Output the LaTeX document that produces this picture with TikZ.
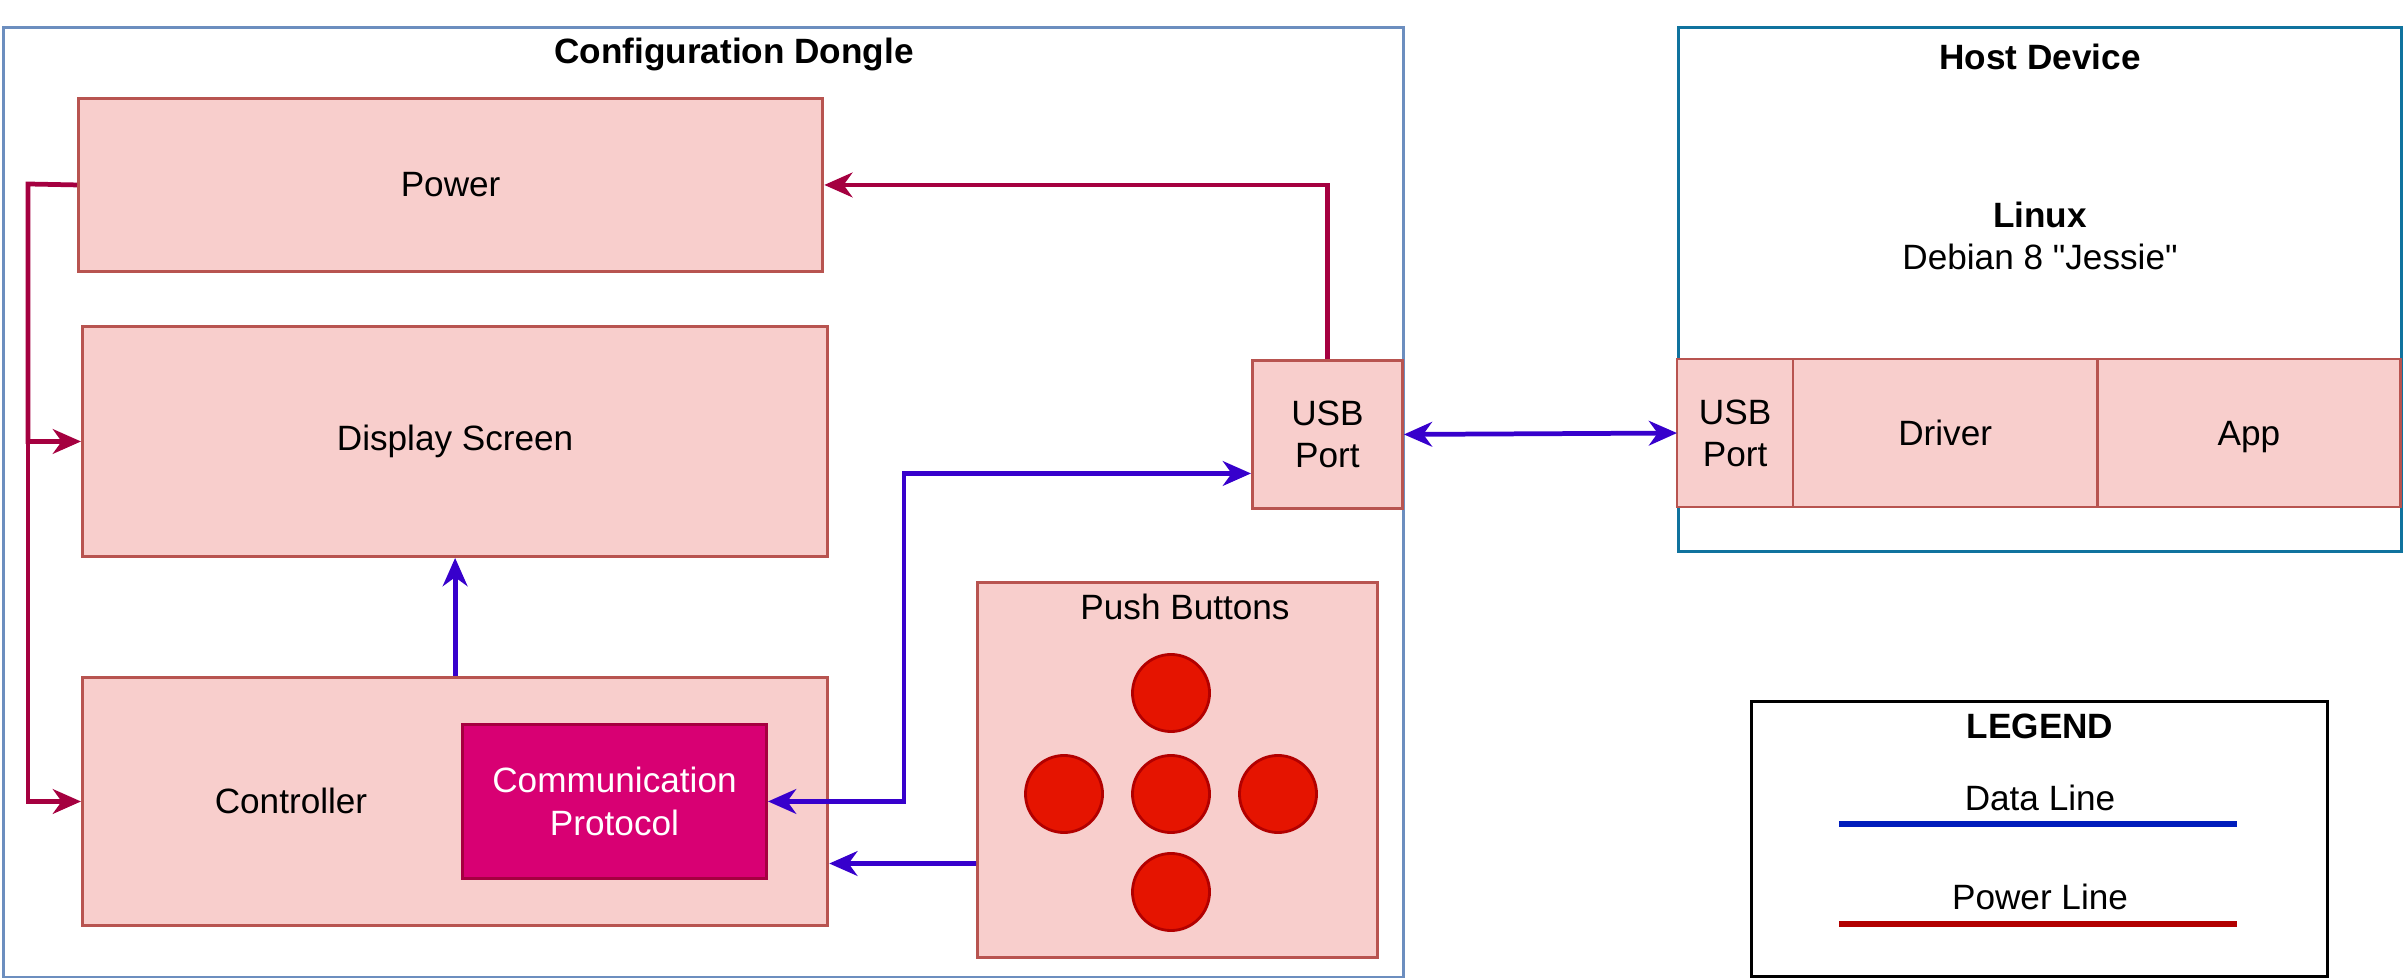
\documentclass[tikz,border=0pt]{standalone}
\usepackage{fontspec}
\setmainfont{Liberation Sans}
\newfontfamily\plainfont{Liberation Sans}
\usepackage{xcolor}
\usetikzlibrary{shapes,arrows.meta,positioning}
\definecolor{boxfill}{HTML}{F8CECC}
\definecolor{boxline}{HTML}{B85450}
\definecolor{commfill}{HTML}{D80073}
\definecolor{commline}{HTML}{A50040}
\definecolor{btnfill}{HTML}{E51400}
\definecolor{btnline}{HTML}{B20000}
\definecolor{dongleline}{HTML}{6C8EBF}
\definecolor{hostline}{HTML}{10739E}
\definecolor{powerline}{HTML}{A50040}
\definecolor{dataline}{HTML}{3700CC}
\definecolor{legblue}{HTML}{001DBC}
\definecolor{legred}{HTML}{B20000}

\begin{document}
\begin{tikzpicture}[x=0.01cm, y=-0.01cm, node distance = 0pt, auto]
        \tikzstyle{group} = [rectangle, draw, line width=0.8pt, anchor=north west, inner sep=0pt]
        \tikzstyle{block} = [rectangle, draw=boxline, fill=boxfill, line width=0.8pt, align=center, anchor=north west, inner sep=0pt]
        \tikzstyle{cell} = [block, outer sep=0pt]
        \tikzstyle{button} = [circle, draw=btnline, fill=btnfill, line width=0.8pt, minimum size=0.77cm, inner sep=0pt]
        \tikzstyle{line} = [draw, line width=1.35pt, -{Stealth[length=8pt, width=7pt, inset=2.5pt]}]
        \tikzstyle{twoway} = [line, {Stealth[length=8pt, width=7pt, inset=2.5pt]}-{Stealth[length=8pt, width=7pt, inset=2.5pt]}]
        \tikzstyle{power} = [line, color=powerline]
        \tikzstyle{data} = [line, color=dataline]
        \tikzstyle{key} = [draw, line width=1.6pt]

        \useasboundingbox (0,0) rectangle (2403,980);

        \node [group, draw=dongleline, minimum width=13.99cm, minimum height=9.49cm] (dongle) at (2,26) {};
        \node [font=\bfseries] (dongle_title) at (734,54) {Configuration Dongle};

        \node [block, minimum width=7.44cm, minimum height=1.73cm] (power) at (77,97) {Power};
        \node [block, minimum width=7.45cm, minimum height=2.30cm] (display) at (81,325) {Display Screen};
        \node [block, minimum width=7.45cm, minimum height=2.48cm] (controller) at (81,676) {};
        \node (controller_text) at (291,801) {Controller};
        \node [block, draw=commline, fill=commfill, text=white, minimum width=3.04cm, minimum height=1.54cm] (comm) at (461,723) {Communication\\Protocol};
        \node [block, minimum width=1.50cm, minimum height=1.48cm] (usb) at (1251,359) {USB\\Port};

        \node [block, minimum width=4.00cm, minimum height=3.75cm] (push) at (976,581) {};
        \node (push_title) at (1185,607) {Push Buttons};
        \node [button] (btn_up) at (1171,693) {};
        \node [button] (btn_left) at (1064,794) {};
        \node [button] (btn_mid) at (1171,794) {};
        \node [button] (btn_right) at (1278,794) {};
        \node [button] (btn_down) at (1171,892) {};

        \node [group, draw=hostline, minimum width=7.23cm, minimum height=5.24cm] (host) at (1677,26) {};
        \node [font=\bfseries] (host_title) at (2040,57) {Host Device};
        \node [align=center] (os) at (2040,236) {\textbf{Linux}\\{\plainfont Debian 8 "Jessie"}};
        \node [cell, minimum width=1.16cm, minimum height=1.48cm] (host_usb) at (1677,359) {USB\\Port};
        \node [cell, minimum width=3.04cm, minimum height=1.48cm, right=of host_usb] (driver) {Driver};
        \node [cell, minimum width=3.03cm, minimum height=1.48cm, text depth=0pt, right=of driver] (app) {App};

        \node [group, draw=black, minimum width=5.76cm, minimum height=2.75cm] (legend) at (1750,700) {};
        \node [font=\bfseries] (legend_title) at (2040,726) {LEGEND};
        \node (data_key) at (2040,798) {Data Line};
        \node (power_key) at (2040,897) {Power Line};
        \coordinate (data_a) at (1839,824);
        \coordinate (data_b) at (2237,824);
        \coordinate (power_a) at (1839,924);
        \coordinate (power_b) at (2237,924);
        \coordinate (bus) at (28,184);

        \path [power] (usb.north) |- (power.east);
        \path [power] (power.west) -- (bus) |- (display.west);
        \path [power] (bus) |- (controller.west);
        \path [data] (controller) -- (display);
        \path [data, twoway] (comm.east) -- ++(136,0) |- ([yshift=-0.39cm]usb.west);
        \path [data] ([yshift=-0.935cm]push.west) -- ([yshift=-0.62cm]controller.east);
        \path [data, twoway] (usb.east) -- (host_usb.west);
        \path [key, legblue] (data_a) -- (data_b);
        \path [key, legred] (power_a) -- (power_b);

    \end{tikzpicture}
\end{document}
